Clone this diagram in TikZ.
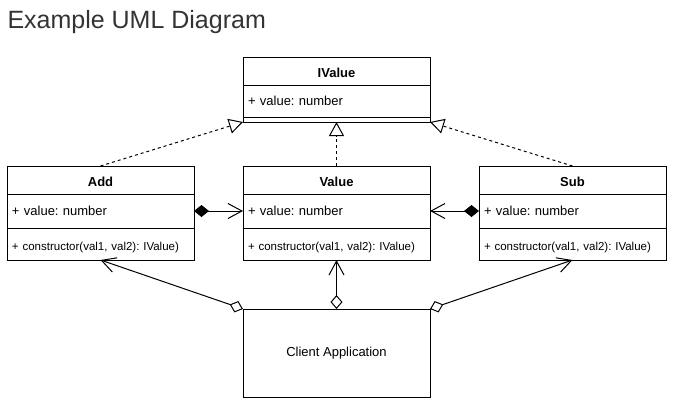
\documentclass[tikz,border=0pt]{standalone}
\usepackage{fontspec}
\setmainfont{Liberation Sans}
\frenchspacing
\usetikzlibrary{positioning,arrows.meta}
\tikzset{>=latex}
\tikzset{
  box/.style={draw,outer sep=0pt,inner xsep=5pt,inner ysep=0pt,text width=177pt,minimum width=187pt},
  head/.style={box,align=center,minimum height=28pt,text height=13.5pt,text depth=0pt,font=\fontsize{13}{15}\selectfont\bfseries},
  attr/.style={box,align=left,minimum height=34pt,font=\fontsize{13}{15}\selectfont},
  meth/.style={box,align=left,minimum height=32pt,text height=14pt,text depth=2pt,font=\fontsize{11.5}{14}\selectfont},
  real/.style={-{Triangle[open,length=14pt,width=15pt]},dash pattern=on 3pt off 3pt},
  comp/.style={{Diamond[length=15pt,width=12pt]}-{Straight Barb[length=14pt,width=15pt]}},
  aggr/.style={{Diamond[open,length=14pt,width=12pt]}-{Straight Barb[length=14pt,width=15pt]}}
}

\begin{document}
\begin{tikzpicture}[x=1pt,y=-1pt,line width=1pt]
  \useasboundingbox (0,0) rectangle (675,408);
  \node[anchor=base west,inner sep=0pt,text=black!80,font=\fontsize{25}{30}\selectfont] (title) at (7,28) {Example UML Diagram};
  % IValue
  \node[head,anchor=north] (ih) at (336.5,57) {IValue};
  \node[attr,minimum height=32pt,below=0pt of ih] (ia) {+ value: number};
  \node[box,minimum height=5pt,below=0pt of ia] (im) {};
  % Add
  \node[head,anchor=north] (ah) at (100.5,166) {Add};
  \node[attr,below=0pt of ah] (aa) {+ value: number};
  \node[meth,below=0pt of aa] (am) {+ constructor(val1, val2): IValue)};
  % Value
  \node[head,anchor=north] (vh) at (336.5,166) {Value};
  \node[attr,below=0pt of vh] (va) {+ value: number};
  \node[meth,below=0pt of va] (vm) {+ constructor(val1, val2): IValue)};
  % Sub
  \node[head,anchor=north] (sh) at (572.5,166) {Sub};
  \node[attr,below=0pt of sh] (sa) {+ value: number};
  \node[meth,below=0pt of sa] (sm) {+ constructor(val1, val2): IValue)};
  % client
  \node[draw,outer sep=0pt,minimum width=187pt,minimum height=88pt,anchor=north,font=\fontsize{13}{15}\selectfont] (client) at (336.5,309) {Client Application};
  % realization
  \draw[real] (ah.north) -- (im.south west);
  \draw[real] (vh.north) -- (im.south);
  \draw[real] (sh.north) -- (im.south east);
  % composition
  \draw[comp] (aa.east) -- (va.west);
  \draw[comp] (sa.west) -- (va.east);
  % aggregation
  \draw[aggr] (client.north west) -- (am.south);
  \draw[aggr] (client.north) -- (vm.south);
  \draw[aggr] (client.north east) -- (sm.south);
\end{tikzpicture}
\end{document}
